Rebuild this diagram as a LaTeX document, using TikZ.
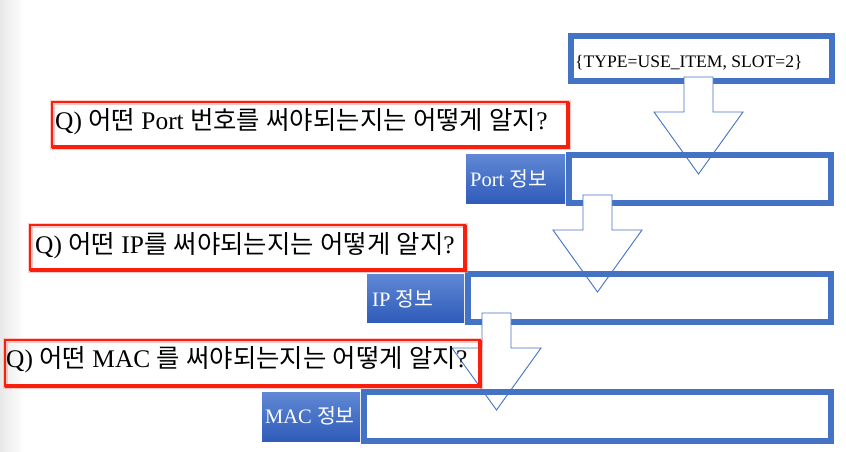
\documentclass[tikz,border=0pt]{standalone}
\usepackage{fontspec}
\setmainfont{Liberation Serif}
\newfontfamily\kr{Noto Sans CJK KR}
\definecolor{boxblue}{RGB}{68,114,196}
\definecolor{lbltop}{RGB}{96,136,212}
\definecolor{lblbot}{RGB}{48,92,186}
\definecolor{redc}{RGB}{250,30,12}
\tikzset{
  outbox/.style={draw=boxblue, line width=6pt, inner sep=0pt, outer sep=0pt},
  lblbox/.style={top color=lbltop, bottom color=lblbot, draw=none, inner sep=0pt, outer sep=0pt},
  redbox/.style={draw=redc, line width=2.6pt, inner sep=0pt, outer sep=0pt},
  qtext/.style={anchor=base west, inner sep=0pt, font=\fontsize{25.4pt}{29pt}\selectfont, text=black},
  lbltext/.style={anchor=base west, inner sep=0pt, font=\fontsize{20.5pt}{24pt}\selectfont, text=white},
  arrowst/.style={draw=boxblue, line width=0.9pt, fill=white, line join=miter},
  downarrow/.pic={\path[arrowst] (-14.5,0) -- (14.5,0) -- (14.5,35) -- (44.5,35) -- (0,97) -- (-44.5,35) -- (-14.5,35) -- cycle;}
}
\begin{document}
\begin{tikzpicture}[x=1pt,y=-1pt]
\useasboundingbox (0,0) rectangle (846,451);
\fill[white] (0,0) rectangle (846,451);
\shade[left color=black!9, right color=white] (0,0) rectangle (24,451);

% top box
\node[outbox, minimum width=261pt, minimum height=45pt] (top) at (701.5,58.5) {};
\node[anchor=base west, inner sep=0pt, font=\fontsize{17.6pt}{20pt}\selectfont] (toptext) at (575,67) {\{TYPE=USE\_ITEM, SLOT=2\}};

\pic at (698.5,77) {downarrow};

% Port
\node[outbox, minimum width=262.5pt, minimum height=48pt] (portbox) at (699.75,179) {};
\node[lblbox, minimum width=99pt, minimum height=49pt] (portlbl) at (515.5,178.5) {};
\node[lbltext] (porttext) at (470,186) {Port {\kr 정보}};

\pic at (597.5,195) {downarrow};

% IP
\node[outbox, minimum width=363.5pt, minimum height=48pt] (ipbox) at (649.25,298) {};
\node[lblbox, minimum width=97pt, minimum height=48pt] (iplbl) at (415.5,298) {};
\node[lbltext] (iptext) at (372,306) {IP {\kr 정보}};

\pic at (496.5,313) {downarrow};

% MAC
\node[outbox, minimum width=467pt, minimum height=49pt] (macbox) at (597.5,416.5) {};
\node[lblbox, minimum width=98pt, minimum height=49pt] (maclbl) at (311,416.5) {};
\node[lbltext] (mactext) at (265,423) {MAC {\kr 정보}};

% red question boxes
\foreach \n/\cx/\cy/\w/\h in {q1/310/124.5/516/45, q2/247.5/247.5/435/45, q3/242.5/363/475/46}{
  \node[draw=redc!45, line width=5pt, inner sep=0pt, minimum width=\w pt, minimum height=\h pt, opacity=0.5] at (\cx,\cy) {};
  \node[redbox, minimum width=\w pt, minimum height=\h pt] (\n) at (\cx,\cy) {};
  \draw[redc, line width=3.6pt] (\n.south west) -- (\n.south east) -- (\n.north east);
}
\node[qtext] (q1text) at (55,129) {Q) {\kr 어떤} Port {\kr 번호를} {\kr 써야되는지는} {\kr 어떻게} {\kr 알지}?};
\node[qtext] (q2text) at (35,253) {Q) {\kr 어떤} IP{\kr 를} {\kr 써야되는지는} {\kr 어떻게} {\kr 알지}?};
\node[qtext] (q3text) at (6,367) {Q) {\kr 어떤} MAC {\kr 를} {\kr 써야되는지는} {\kr 어떻게} {\kr 알지}?};
\end{tikzpicture}
\end{document}
